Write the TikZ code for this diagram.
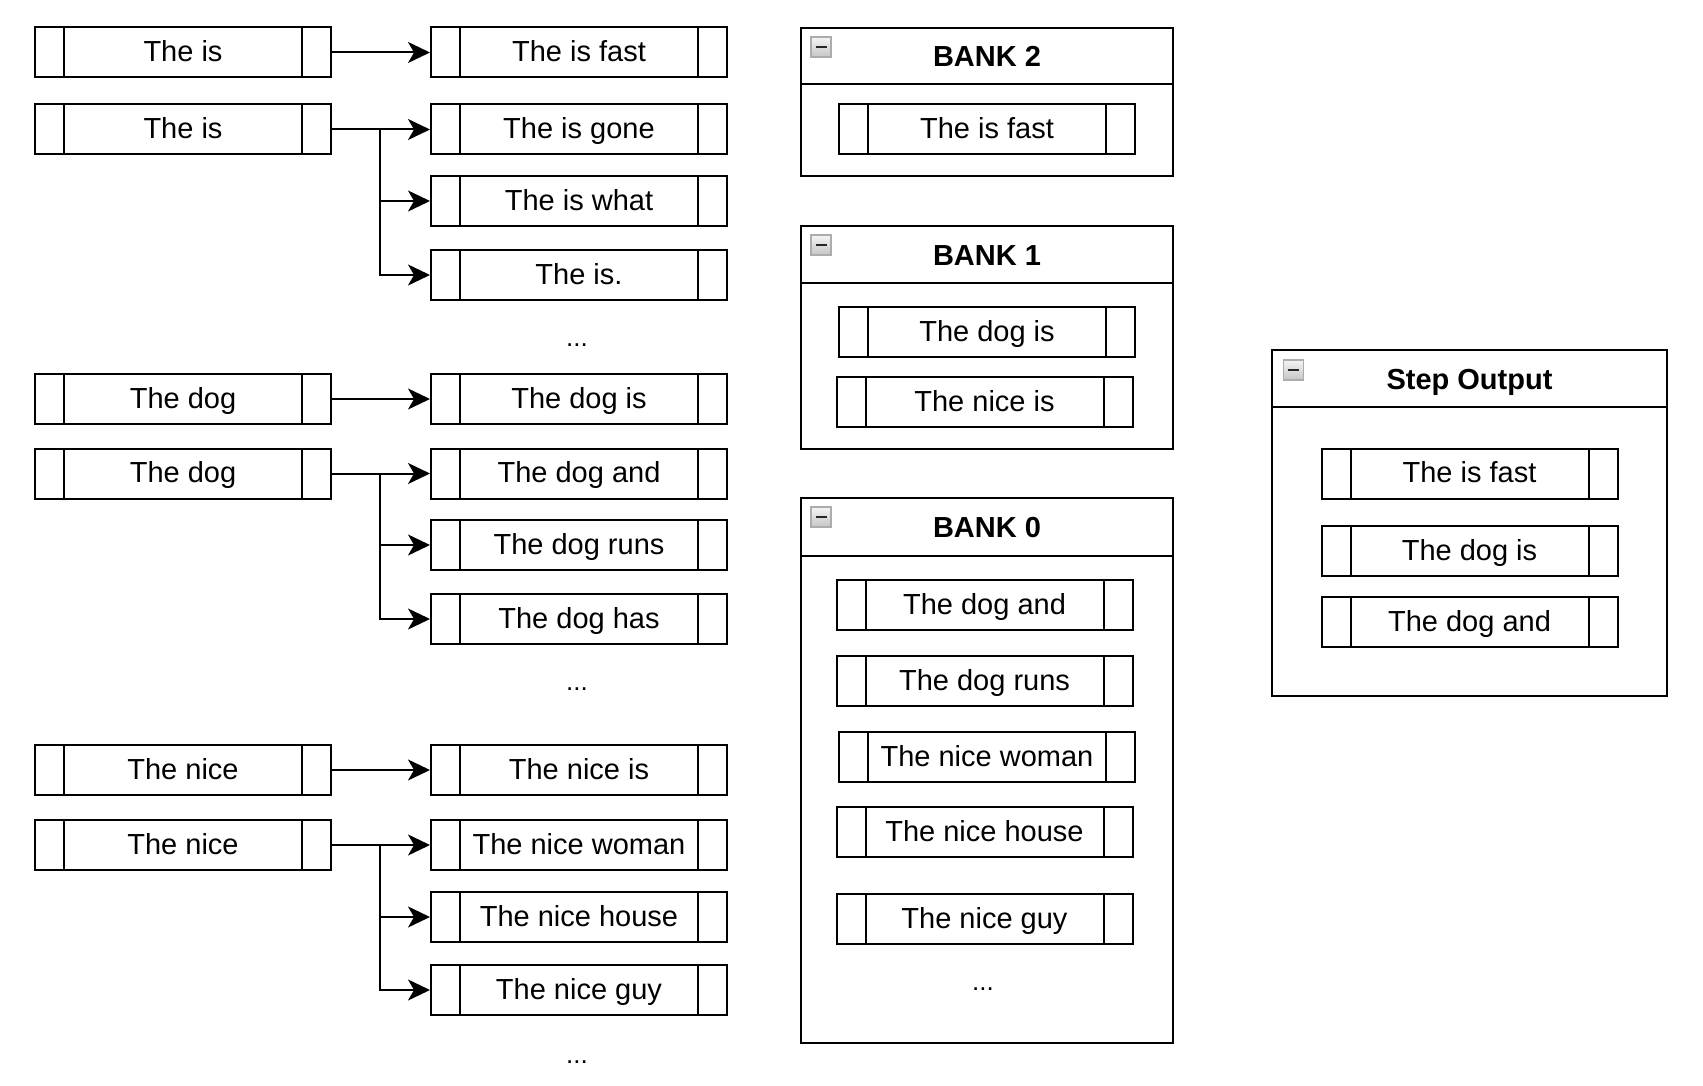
\documentclass[tikz,border=0pt]{standalone}
\usepackage{fontspec}
\setmainfont{Liberation Sans}
\usetikzlibrary{arrows.meta,calc}
\tikzset{
  item/.style={draw, line width=1pt, rectangle, minimum width=148pt, minimum height=25pt,
    inner sep=0pt, font=\fontsize{14.5}{17}\selectfont, text=black,
    text height=10.2pt, text depth=1pt,
    path picture={
      \draw[line width=1pt] ([xshift=14.5pt]path picture bounding box.north west) -- ([xshift=14.5pt]path picture bounding box.south west);
      \draw[line width=1pt] ([xshift=-14.5pt]path picture bounding box.north east) -- ([xshift=-14.5pt]path picture bounding box.south east);
    }},
  container/.style={draw, line width=1pt, rectangle, inner sep=0pt},
  ctitle/.style={font=\bfseries\fontsize{14.5}{17}\selectfont, inner sep=0pt, text height=10.2pt, text depth=0.6pt},
  dots/.style={font=\fontsize{13}{15}\selectfont, inner sep=0pt},
  arr/.style={line width=1pt, -{Stealth[length=11pt, width=10.5pt, inset=3pt]}},
  icon/.style={draw=gray!65, line width=0.8pt, top color=gray!8, bottom color=gray!45,
    minimum width=10pt, minimum height=10pt, inner sep=0pt, anchor=north west,
    path picture={\draw[line width=1.2pt, black!85] ([xshift=2.2pt]path picture bounding box.west) -- ([xshift=-2.2pt]path picture bounding box.east);}}
}
\begin{document}
\begin{tikzpicture}[x=0.5pt, y=-0.5pt]
\useasboundingbox (0,0) rectangle (1703,1086);
\fill[white] (0,0) rectangle (1703,1086);

% ---- left tree ----
\coordinate (brX) at (380,0);
\node[item] (L1) at (183,52.5) {The is};
\node[item] (R1) at (579,52.5) {The is fast};
\node[item] (L2) at (183,129.5) {The is};
\node[item] (R2) at (579,129.5) {The is gone};
\node[item] (R3) at (579,201) {The is what};
\node[item] (R4) at (579,275) {The is.};
\node[dots] (d1) at (577,345) {...};

\node[item] (L3) at (183,399) {The dog};
\node[item] (R5) at (579,399) {The dog is};
\node[item] (L4) at (183,473.5) {The dog};
\node[item] (R6) at (579,473.5) {The dog and};
\node[item] (R7) at (579,545) {The dog runs};
\node[item] (R8) at (579,619) {The dog has};
\node[dots] (d2) at (577,689) {...};

\node[item] (L5) at (183,770) {The nice};
\node[item] (R9) at (579,770) {The nice is};
\node[item] (L6) at (183,845) {The nice};
\node[item] (R10) at (579,845) {The nice woman};
\node[item] (R11) at (579,917) {The nice house};
\node[item] (R12) at (579,990) {The nice guy};
\node[dots] (d3) at (577,1062) {...};

\draw[arr] (L1.east) -- (R1.west);
\draw[arr] (L2.east) -- (R2.west);
\draw[arr] (L2.east) -- (L2.east -| brX) |- (R3.west);
\draw[arr] (L2.east) -- (L2.east -| brX) |- (R4.west);

\draw[arr] (L3.east) -- (R5.west);
\draw[arr] (L4.east) -- (R6.west);
\draw[arr] (L4.east) -- (L4.east -| brX) |- (R7.west);
\draw[arr] (L4.east) -- (L4.east -| brX) |- (R8.west);

\draw[arr] (L5.east) -- (R9.west);
\draw[arr] (L6.east) -- (R10.west);
\draw[arr] (L6.east) -- (L6.east -| brX) |- (R11.west);
\draw[arr] (L6.east) -- (L6.east -| brX) |- (R12.west);

% ---- BANK 2 ----
\node[container, minimum width=185.7pt, minimum height=74pt] (B2) at (987,102) {};
\draw[line width=1pt] (B2.west |- 0,84) -- (B2.east |- 0,84);
\node[ctitle] (B2t) at (987,57) {BANK 2};
\node[icon] (B2i) at ($(B2.north west)+(10,9)$) {};
\node[item] (B2a) at (987,129.5) {The is fast};

% ---- BANK 1 ----
\node[container, minimum width=185.7pt, minimum height=111.5pt] (B1) at (987,337.5) {};
\draw[line width=1pt] (B1.west |- 0,283) -- (B1.east |- 0,283);
\node[ctitle] (B1t) at (987,256) {BANK 1};
\node[icon] (B1i) at ($(B1.north west)+(10,9)$) {};
\node[item] (B1a) at (987,332) {The dog is};
\node[item] (B1b) at (984.5,402) {The nice is};

% ---- BANK 0 ----
\node[container, minimum width=185.7pt, minimum height=272.5pt] (B0) at (987,770.5) {};
\draw[line width=1pt] (B0.west |- 0,556) -- (B0.east |- 0,556);
\node[ctitle] (B0t) at (987,528) {BANK 0};
\node[icon] (B0i) at ($(B0.north west)+(10,9)$) {};
\node[item] (B0a) at (984.5,605) {The dog and};
\node[item] (B0b) at (984.5,681) {The dog runs};
\node[item] (B0c) at (987,757) {The nice woman};
\node[item] (B0d) at (984.5,832) {The nice house};
\node[item] (B0e) at (984.5,919) {The nice guy};
\node[dots] (d4) at (983,989) {...};

% ---- Step Output ----
\node[container, minimum width=197.7pt, minimum height=173pt] (SO) at (1469.5,523) {};
\draw[line width=1pt] (SO.west |- 0,407) -- (SO.east |- 0,407);
\node[ctitle] (SOt) at (1469.5,380) {Step Output};
\node[icon] (SOi) at ($(SO.north west)+(12,10)$) {};
\node[item] (S1) at (1469.5,473.5) {The is fast};
\node[item] (S2) at (1469.5,551) {The dog is};
\node[item] (S3) at (1469.5,622) {The dog and};
\end{tikzpicture}
\end{document}
